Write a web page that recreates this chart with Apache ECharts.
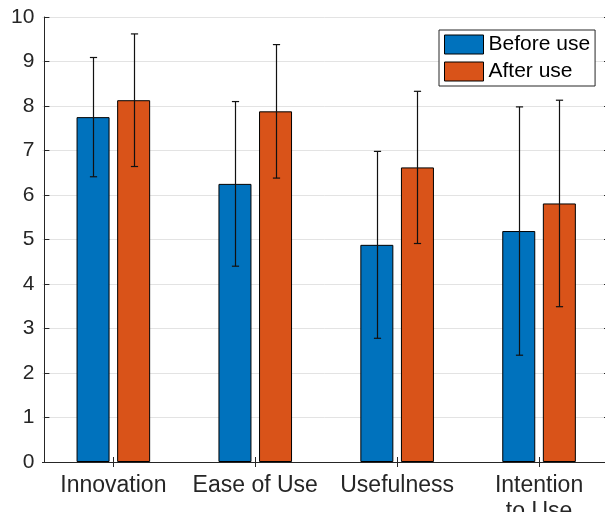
<!DOCTYPE html>
<html>
<head>
<meta charset="utf-8">
<script src="https://cdn.jsdelivr.net/npm/echarts@6/dist/echarts.min.js"></script>
<style>
html,body{margin:0;padding:0;background:#fff;}
#chart{width:605px;height:512px;}
</style>
</head>
<body>
<div id="chart"></div>
<script>
var categories = ['Innovation', 'Ease of Use', 'Usefulness', 'Intention\nto Use'];
var seriesNames = ['Before use', 'After use'];
var beforeValues = [7.75, 6.25, 4.88, 5.19];
var afterValues = [8.13, 7.88, 6.62, 5.81];
var beforeErr = [1.34, 1.85, 2.10, 2.79];
var afterErr = [1.49, 1.50, 1.71, 2.32];
var yTicks = [0, 1, 2, 3, 4, 5, 6, 7, 8, 9, 10];

var FONT = 'Liberation Sans';
var TXT = '#262626';
var BAR_W = 33;
var GAP_PX = 7.6;

function errData(vals, errs) {
  return vals.map(function (v, i) { return [i, v, errs[i]]; });
}

function makeErrRender(sign) {
  return function (params, api) {
    var xi = api.value(0), y = api.value(1), e = api.value(2);
    var off = sign * (BAR_W + GAP_PX) / 2;
    var top = api.coord([xi, y + e]);
    var bot = api.coord([xi, y - e]);
    var x = Math.round(top[0] + off) + 0.5;
    var cap = 3.6;
    var st = { stroke: '#111', lineWidth: 1.2 };
    return {
      type: 'group',
      children: [
        { type: 'line', shape: { x1: x, y1: top[1], x2: x, y2: bot[1] }, style: st },
        { type: 'line', shape: { x1: x - cap, y1: top[1], x2: x + cap, y2: top[1] }, style: st },
        { type: 'line', shape: { x1: x - cap, y1: bot[1], x2: x + cap, y2: bot[1] }, style: st }
      ]
    };
  };
}

var chart = echarts.init(document.getElementById('chart'), null, { renderer: 'canvas' });
var option = {
  animation: false,
  backgroundColor: '#fff',
  textStyle: { fontFamily: FONT },
  grid: { left: 42.4, top: 17, width: 567.6, bottom: 50, containLabel: false, outerBoundsMode: 'none' },
  legend: {
    data: seriesNames,
    orient: 'vertical',
    left: 439,
    top: 30,
    padding: [4, 5, 4, 5],
    itemWidth: 39,
    itemHeight: 19,
    itemGap: 6,
    backgroundColor: '#fff',
    borderColor: '#262626',
    borderWidth: 1,
    borderRadius: 0,
    icon: 'rect',
    itemStyle: { borderColor: '#000', borderWidth: 1 },
    textStyle: { fontFamily: FONT, fontSize: 21, color: '#000', lineHeight: 19 }
  },
  xAxis: [
    {
      type: 'category',
      data: categories,
      position: 'bottom',
      boundaryGap: true,
      axisLine: { show: true, lineStyle: { color: TXT, width: 1 } },
      axisTick: { show: true, inside: true, length: 5, alignWithLabel: true, interval: 0, lineStyle: { color: TXT } },
      axisLabel: { fontFamily: FONT, fontSize: 23, color: TXT, margin: 11, interval: 0, lineHeight: 26 },
      splitLine: { show: false }
    },
    {
      type: 'category',
      data: categories,
      position: 'top',
      boundaryGap: true,
      axisLine: { show: true, lineStyle: { color: TXT, width: 1 } },
      axisTick: { show: true, inside: true, length: 5, alignWithLabel: true, interval: 0, lineStyle: { color: TXT } },
      axisLabel: { show: false },
      splitLine: { show: false }
    }
  ],
  yAxis: [
    {
      type: 'value',
      min: 0, max: 10, interval: 1,
      position: 'left',
      offset: -2,
      axisLine: { show: true, lineStyle: { color: TXT, width: 1 } },
      axisTick: { show: true, inside: true, length: 5, lineStyle: { color: TXT } },
      axisLabel: {
        fontFamily: FONT, fontSize: 21, color: TXT, margin: 10,
        formatter: function (v) { return yTicks.indexOf(v) >= 0 ? String(v) : ''; }
      },
      splitLine: { show: true, lineStyle: { color: '#e3e3e3', width: 1 } }
    },
    {
      type: 'value',
      min: 0, max: 10, interval: 1,
      position: 'right',
      axisLine: { show: true, lineStyle: { color: TXT, width: 1 } },
      axisTick: { show: true, inside: true, length: 6, lineStyle: { color: TXT } },
      axisLabel: { show: false },
      splitLine: { show: false }
    }
  ],
  series: [
    {
      name: seriesNames[0], type: 'bar', xAxisIndex: 0, yAxisIndex: 0,
      data: beforeValues, barWidth: BAR_W, barGap: (GAP_PX / BAR_W * 100).toFixed(1) + '%',
      itemStyle: { color: '#0072BD', borderColor: '#000', borderWidth: 1 }, z: 2
    },
    {
      name: seriesNames[1], type: 'bar', xAxisIndex: 0, yAxisIndex: 0,
      data: afterValues, barWidth: BAR_W,
      itemStyle: { color: '#D95319', borderColor: '#000', borderWidth: 1 }, z: 2
    },
    {
      type: 'custom', xAxisIndex: 0, yAxisIndex: 0, z: 5,
      renderItem: makeErrRender(-1), data: errData(beforeValues, beforeErr), silent: true
    },
    {
      type: 'custom', xAxisIndex: 0, yAxisIndex: 0, z: 5,
      renderItem: makeErrRender(1), data: errData(afterValues, afterErr), silent: true
    }
  ]
};
chart.setOption(option);
</script>
</body>
</html>
